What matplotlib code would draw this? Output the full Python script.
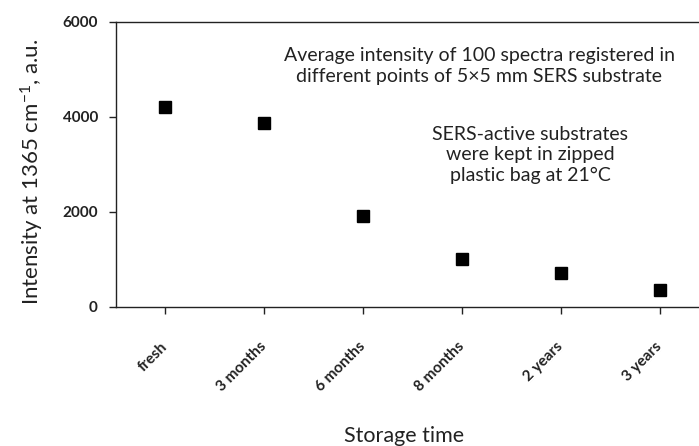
import matplotlib
matplotlib.use("Agg")
import matplotlib.pyplot as plt

# data
CATEGORIES = ["fresh", "3 months", "6 months", "8 months", "2 years", "3 years"]
INTENSITY = [4200, 3870, 1900, 1000, 700, 350]
Y_TICKS = [0, 2000, 4000, 6000]

NOTE_1 = "Average intensity of 100 spectra registered in\ndifferent points of 5\u00d75 mm SERS substrate"
NOTE_2 = "SERS-active substrates\nwere kept in zipped\nplastic bag at 21\u00b0C"

plt.rcParams["font.family"] = ["Lato", "DejaVu Sans"]
plt.rcParams["mathtext.default"] = "regular"

W, H = 699, 446
TXT = "#222222"
fig = plt.figure(figsize=(W / 100, H / 100), dpi=100)
ax = fig.add_axes([115.7 / W, (H - 306.7) / H, (709.5 - 115.7) / W, (306.7 - 21.7) / H])

x = list(range(len(CATEGORIES)))
ax.plot(x, INTENSITY, linestyle="none", marker="s", markersize=8, color="black")

ax.set_xlim(-0.5, len(CATEGORIES) - 0.5)
ax.set_ylim(0, 6000)
ax.set_yticks(Y_TICKS)
ax.set_xticks(x)
ax.set_xticklabels(CATEGORIES, rotation=45, ha="right", va="center", rotation_mode="anchor",
                   fontsize=11, fontweight="bold", color=TXT)
for lab in ax.get_yticklabels():
    lab.set_fontsize(11)
    lab.set_fontweight("bold")
    lab.set_color(TXT)

ax.tick_params(axis="both", direction="out", length=5.3, width=1.0, color=TXT)
ax.tick_params(axis="y", pad=7.5)
# Excel-style placement: rotated labels sit well below the ticks
ax.tick_params(axis="x", pad=22)
ax.spines["right"].set_visible(False)
for side in ("left", "top", "bottom"):
    ax.spines[side].set_linewidth(1.0)
    ax.spines[side].set_color(TXT)

ax.set_ylabel("Intensity at 1365 cm$^{-1}$, a.u.", fontsize=16, color=TXT, va="center")
ax.yaxis.set_label_coords((32 - 115.7) / 593.8, (306.7 - 172) / 285)
ax.set_xlabel("Storage time", fontsize=15.5, color=TXT, va="center")
ax.xaxis.set_label_coords((404 - 115.7) / 593.8, -(436 - 306.7) / 285)

fig.text(479 / W, 1 - 66 / H, NOTE_1, ha="center", va="center", fontsize=14,
         color=TXT, linespacing=1.3)
fig.text(530 / W, 1 - 155 / H, NOTE_2, ha="center", va="center", fontsize=14,
         color=TXT, linespacing=1.22)

fig.savefig("out.png", dpi=100)
